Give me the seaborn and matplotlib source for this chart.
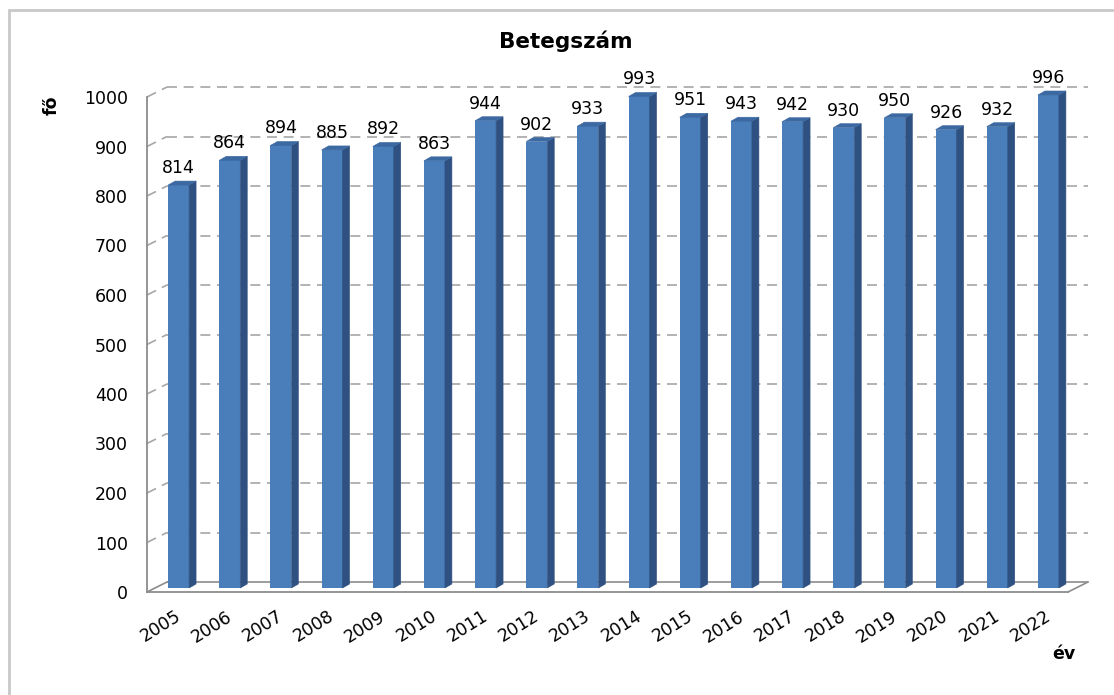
import numpy as np
import pandas as pd
import seaborn as sns
import matplotlib.pyplot as plt
from matplotlib.patches import Polygon, Rectangle
from matplotlib.lines import Line2D
from matplotlib.transforms import Affine2D, IdentityTransform

# data
years = [str(y) for y in range(2005, 2023)]
patients = [814, 864, 894, 885, 892, 863, 944, 902, 933, 993,
            951, 943, 942, 930, 950, 926, 932, 996]
y_ticks = list(range(0, 1001, 100))

W, H, DPI = 1114, 695, 100
FRONT = "#4A7EBB"
SIDE = "#2F5181"
TOP = "#3C69A2"
GRID = "#A6A6A6"
AXIS = "#8C8C8C"

# pseudo 3d offsets in pixels (right, up)
WALL = (20, 10)    # back wall
BAR_POS = (6, 4)   # where the bar front sits
BAR_DEPTH = (7, 4)

sns.set_style("white")
plt.rcParams['font.family'] = ['DejaVu Sans']
plt.rcParams['text.color'] = 'black'

fig = plt.figure(figsize=(W / DPI, H / DPI), dpi=DPI)
ax = fig.add_axes([147 / W, 1 - 592 / H, (1068 - 147) / W, (592 - 97) / H])

df = pd.DataFrame({"év": years, "fő": patients})
sns.barplot(data=df, x="év", y="fő", color=FRONT, width=0.41, saturation=1,
            linewidth=0, ax=ax, zorder=3)

ax.set_xlim(-0.5, len(years) - 0.5)
ax.set_ylim(0, 1000)
ax.set_yticks(y_ticks)
ax.set_xlabel("")
ax.set_ylabel("")
for s in ["top", "right"]:
    ax.spines[s].set_visible(False)
for s in ["left", "bottom"]:
    ax.spines[s].set_color(AXIS)
    ax.spines[s].set_linewidth(1.3)

# tick marks on category boundaries, labels on centers
ax.set_xticks(np.arange(-0.5, len(years)), minor=True)
ax.tick_params(axis="x", which="major", length=0, pad=11, labelsize=12.5, labelcolor="black")
ax.tick_params(axis="x", which="minor", length=4.5, width=1.2, color=AXIS, direction="out")
ax.tick_params(axis="y", length=3.6, width=1.2, color=AXIS, direction="out", pad=10,
               labelsize=12.5, labelcolor="black")
plt.setp(ax.get_xticklabels(), rotation=32, ha="right", va="top", rotation_mode="anchor")
for lbl in ax.get_xticklabels():
    lbl.set_transform(lbl.get_transform() + Affine2D().translate(2, 0))

# back wall gridlines and floor
x_lo, x_hi = -0.5, len(years) - 0.5
dash = (0, (6, 4))
for v in y_ticks:
    p0 = ax.transData.transform((x_lo, v))
    p1 = ax.transData.transform((x_hi, v))
    style = "-" if v == 0 else dash
    col = AXIS if v == 0 else GRID
    ax.add_line(Line2D([p0[0] + WALL[0], p1[0] + WALL[0]], [p0[1] + WALL[1], p1[1] + WALL[1]],
                       transform=IdentityTransform(), color=col, lw=1.2, linestyle=style,
                       clip_on=False, zorder=1))
    ax.add_line(Line2D([p0[0], p0[0] + WALL[0]], [p0[1], p0[1] + WALL[1]],
                       transform=IdentityTransform(), color=col, lw=1.2, linestyle=style,
                       clip_on=False, zorder=1))
p1 = ax.transData.transform((x_hi, 0))
ax.add_line(Line2D([p1[0], p1[0] + WALL[0]], [p1[1], p1[1] + WALL[1]],
                   transform=IdentityTransform(), color=AXIS, lw=1.2, clip_on=False, zorder=1))

# shift bars back a little and give them side and top faces
shift = Affine2D().translate(*BAR_POS)
for p, v in zip(ax.patches, patients):
    p.set_transform(ax.transData + shift)
    p.set_clip_on(False)
    x0, x1 = p.get_x(), p.get_x() + p.get_width()
    br = ax.transData.transform((x1, 0)) + BAR_POS
    tl = ax.transData.transform((x0, p.get_height())) + BAR_POS
    tr = ax.transData.transform((x1, p.get_height())) + BAR_POS
    d = np.array(BAR_DEPTH)
    side = Polygon([br, tr, tr + d, br + d], closed=True, facecolor=SIDE, edgecolor=SIDE,
                   linewidth=0.4, transform=IdentityTransform(), clip_on=False, zorder=3)
    top = Polygon([tl, tr, tr + d, tl + d], closed=True, facecolor=TOP, edgecolor=TOP,
                  linewidth=0.4, transform=IdentityTransform(), clip_on=False, zorder=3)
    ax.add_patch(side)
    ax.add_patch(top)
    ax.annotate(str(v), xy=((x0 + x1) / 2, v), xytext=(BAR_POS[0], BAR_POS[1] + 8),
                textcoords="offset pixels", ha="center", va="bottom", fontsize=12.5,
                color="black", annotation_clip=False, zorder=4)

fig.text(566 / W, 1 - 48 / H, "Betegszám", ha="center", va="baseline",
         fontsize=15.5, fontweight="bold", color="black")
fig.text(52 / W, 1 - 105 / H, "fő", rotation=90, ha="center", va="center",
         fontsize=12.5, fontweight="bold", color="black")
fig.text(1064 / W, 1 - 654 / H, "év", ha="center", va="center",
         fontsize=12.5, fontweight="bold", color="black")

fig.add_artist(Rectangle((9 / W, -0.1), 1.2, 1.1 - 10 / H, transform=fig.transFigure,
                         fill=False, edgecolor="#C8C8C8", linewidth=2))

fig.savefig("out.png", dpi=DPI)
